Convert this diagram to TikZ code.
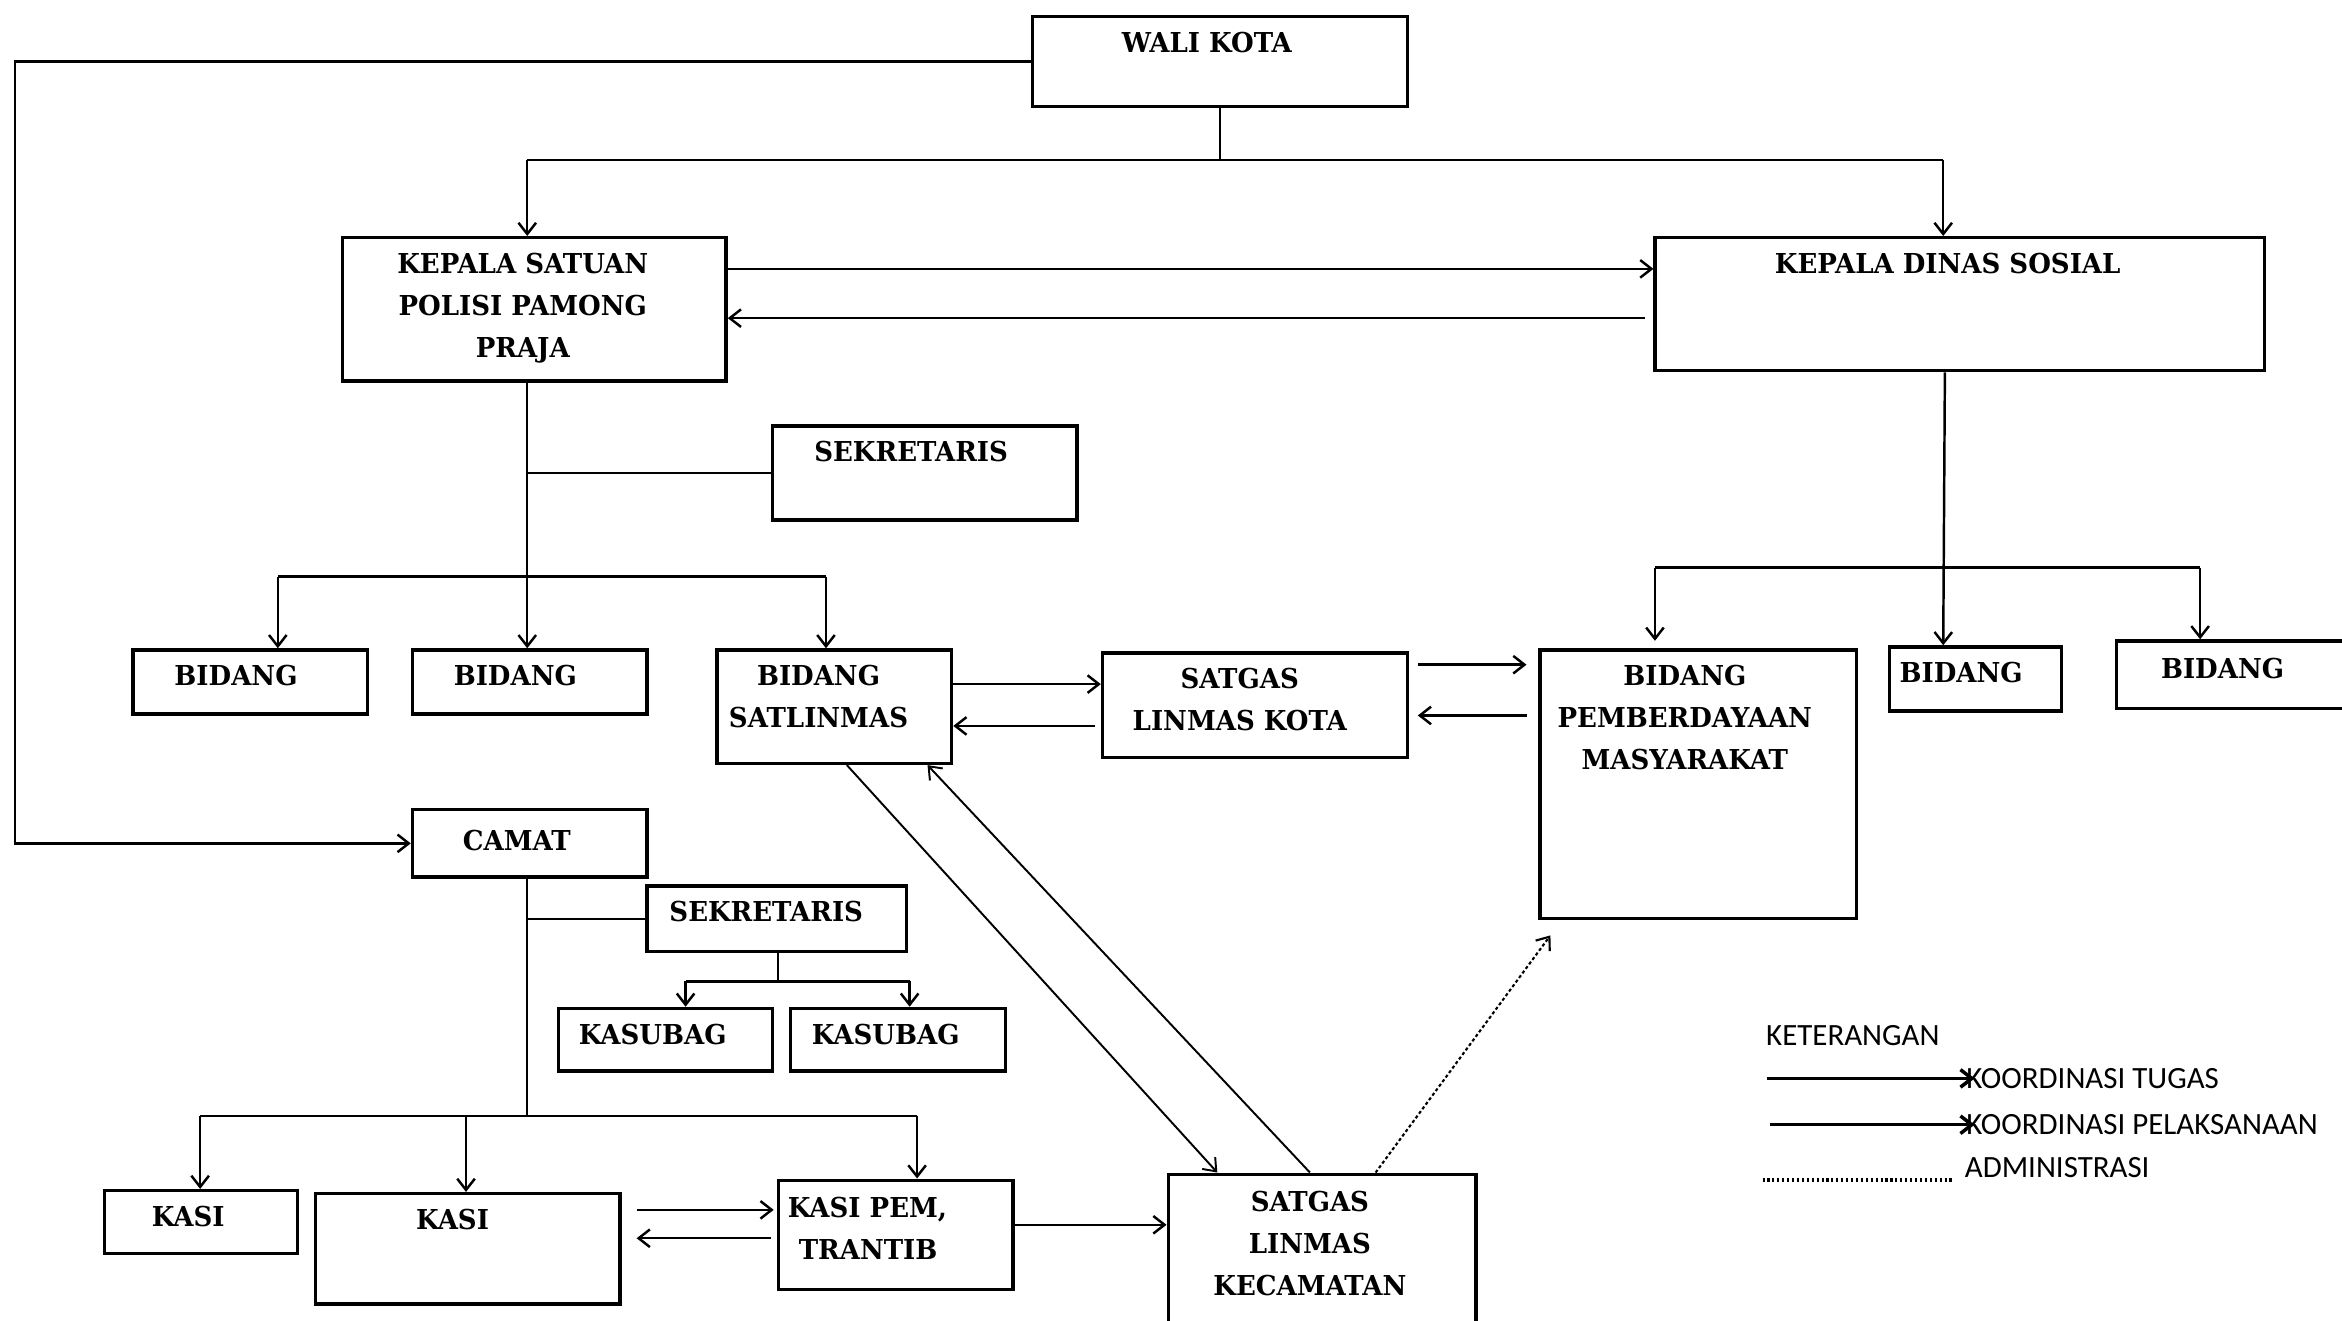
\documentclass[tikz,border=0pt]{standalone}
\usepackage{fontspec}
\setmainfont{DejaVu Serif}[FakeStretch=0.95]
\newfontfamily\legfont{Carlito}
\usetikzlibrary{arrows.meta,calc}
\newlength\unitpx
\setlength\unitpx{0.014936cm}
\tikzset{
  box/.style={draw, line width=0.95pt, anchor=north west, inner sep=0pt},
  lbl/.style={anchor=north, inner sep=0pt, align=center, font=\bfseries\fontsize{7.8}{11.9}\selectfont},
  leg/.style={anchor=west, inner sep=0pt, font=\legfont\fontsize{8.8}{10}\selectfont},
  ln/.style={line width=0.7pt},
  arr/.style={line width=0.7pt, -{Straight Barb[length=3.2pt,width=5pt]}},
  diag/.style={line width=0.55pt, -{Straight Barb[length=3.2pt,width=5pt]}},
  dotarr/.style={line width=0.6pt, dash pattern=on 0.9pt off 0.7pt, -{Straight Barb[length=3.2pt,width=5pt]}},
  legarr/.style={line width=1pt, -{Straight Barb[length=3.2pt,width=5pt]}},
  legdots/.style={line width=1pt, dash pattern=on 0.6pt off 0.8pt},
}
\newcommand\bx[5]{\node[box,minimum width=#4\unitpx,minimum height=#5\unitpx] (#1) at (#2,#3) {};}
\begin{document}
\begin{tikzpicture}[x=0.014936cm,y=-0.014936cm]
\useasboundingbox (0,0) rectangle (1568,884);
\fill[white] (0,0) rectangle (1568,884);
% boxes
\bx{wali}{690}{10}{251}{60}
\bx{kspp}{228}{158}{257}{96}
\bx{kds}{1107}{158}{408}{89}
\bx{sek1}{516}{284}{204}{63}
\bx{b1}{88}{434}{157}{43}
\bx{b2}{275}{434}{157}{43}
\bx{bs}{479}{434}{157}{76}
\bx{slk}{737}{436}{204}{70}
\bx{bpm}{1030}{434}{212}{180}
\bx{b3}{1264}{432}{115}{43}
\bx{b4}{1416}{428}{170}{45}
\bx{camat}{275}{541}{157}{45}
\bx{sek2}{432}{592}{174}{44}
\bx{ksb1}{373}{674}{143}{42}
\bx{ksb2}{528}{674}{144}{42}
\bx{kasi1}{69}{796}{129}{42}
\bx{kasi2}{210}{798}{204}{74}
\bx{kpem}{520}{789}{157}{73}
\bx{slkec}{781}{785}{206}{110}
% labels
\node[lbl] (twali) at (808,21) {WALI KOTA};
\node[lbl] (tkspp) at (350,169) {KEPALA SATUAN\\POLISI PAMONG\\PRAJA};
\node[lbl] (tkds) at (1304,169) {KEPALA DINAS SOSIAL};
\node[lbl] (tsek1) at (610,295) {SEKRETARIS};
\node[lbl] (tb1) at (158,445) {BIDANG};
\node[lbl] (tb2) at (345,445) {BIDANG};
\node[lbl] (tbs) at (548,445) {BIDANG\\SATLINMAS};
\node[lbl] (tslk) at (830,447) {SATGAS\\LINMAS KOTA};
\node[lbl] (tbpm) at (1128,445) {BIDANG\\PEMBERDAYAAN\\MASYARAKAT};
\node[lbl] (tb3) at (1313,443) {BIDANG};
\node[lbl] (tb4) at (1488,440) {BIDANG};
\node[lbl] (tcamat) at (346,555) {CAMAT};
\node[lbl] (tsek2) at (513,603) {SEKRETARIS};
\node[lbl] (tksb1) at (437,685) {KASUBAG};
\node[lbl] (tksb2) at (593,685) {KASUBAG};
\node[lbl] (tkasi1) at (126,807) {KASI};
\node[lbl] (tkasi2) at (303,809) {KASI};
\node[lbl,align=left,anchor=north west] (tkpem) at (527,801) {KASI PEM,\\\hspace*{0.4em}TRANTIB};
\node[lbl] (tslkec) at (877,797) {SATGAS\\LINMAS\\KECAMATAN};
% top connectors
\coordinate (jw) at (815,107);
\coordinate (jL) at (353,107);
\coordinate (jR) at (1301,107);
\draw[ln] (wali.south) -- (wali.south |- jw);
\draw[ln] (jL) -- (jR);
\draw[arr] (jL) -- (jL |- kspp.north);
\draw[arr] (jR) -- (jR |- kds.north);
% left loop to camat
\coordinate (cL) at (10,300);
\draw[arr] (wali.west) -| (cL) |- (camat.west);
% kspp <-> kds
\coordinate (h1) at (0,180);
\coordinate (h2) at (0,213);
\draw[arr] (kspp.east |- h1) -- (kds.west |- h1);
\draw[arr] ($(kds.west |- h2)+(-6,0)$) -- (kspp.east |- h2);
% kspp subtree
\coordinate (jb) at (353,386);
\coordinate (jb1) at (186,386);
\coordinate (jb3) at (553,386);
\draw[ln] (kspp.south -| jb) -- (jb);
\draw[ln] (sek1.west) -- (sek1.west -| jb);
\draw[ln] (jb1) -- (jb3);
\draw[arr] (jb1) -- (jb1 |- b1.north);
\draw[arr] (jb) -- (jb |- b2.north);
\draw[arr] (jb3) -- (jb3 |- bs.north);
% bs <-> slk
\coordinate (h3) at (0,458);
\coordinate (h4) at (0,486);
\draw[arr] (bs.east |- h3) -- (slk.west |- h3);
\draw[arr] ($(slk.west |- h4)+(-4,0)$) -- (bs.east |- h4);
% slk <-> bpm
\coordinate (h5) at (0,445);
\coordinate (h6) at (0,479);
\draw[arr] ($(slk.east |- h5)+(6,0)$) -- ($(bpm.west |- h5)+(-8,0)$);
\draw[arr] ($(bpm.west |- h6)+(-8,0)$) -- ($(slk.east |- h6)+(6,0)$);
% kds subtree
\coordinate (jk) at (1301,380);
\coordinate (jk1) at (1108,380);
\coordinate (jk3) at (1473,380);
\draw[arr] ($(kds.south)+(-10,0)$) -- (jk |- b3.north);
\draw[ln] (jk1) -- (jk3);
\draw[arr] (jk1) -- ($(jk1 |- bpm.north)+(0,-5)$);
\draw[arr] (jk3) -- (jk3 |- b4.north);
% camat subtree
\coordinate (jc) at (353,747);
\draw[ln] (camat.south -| jc) -- (jc);
\draw[ln] (sek2.west) -- (sek2.west -| jc);
\coordinate (js) at (521,657);
\coordinate (js1) at (459,657);
\coordinate (js2) at (609,657);
\draw[ln] (sek2.south -| js) -- (js);
\draw[ln] (js1) -- (js2);
\draw[arr] (js1) -- (js1 |- ksb1.north);
\draw[arr] (js2) -- (js2 |- ksb2.north);
\coordinate (jq1) at (134,747);
\coordinate (jq2) at (312,747);
\coordinate (jq3) at (614,747);
\draw[ln] (jq1) -- (jq3);
\draw[arr] (jq1) -- (jq1 |- kasi1.north);
\draw[arr] (jq2) -- (jq2 |- kasi2.north);
\draw[arr] (jq3) -- (jq3 |- kpem.north);
% kasi2 <-> kpem
\coordinate (h7) at (0,810);
\coordinate (h8) at (0,829);
\coordinate (h9) at (0,820);
\draw[arr] ($(kasi2.east |- h7)+(10,0)$) -- ($(kpem.west |- h7)+(-2,0)$);
\draw[arr] ($(kpem.west |- h8)+(-4,0)$) -- ($(kasi2.east |- h8)+(10,0)$);
\draw[arr] (kpem.east |- h9) -- (slkec.west |- h9);
% diagonals
\draw[diag] ($(bs.south west)+(88,0)$) -- ($(slkec.north west)+(34,0)$);
\draw[diag] ($(slkec.north west)+(96,0)$) -- ($(bs.south west)+(142,0)$);
\draw[dotarr] ($(slkec.north west)+(140,0)$) -- ($(bpm.south west)+(8,10)$);
% legend
\node[leg] (ket) at (1182,693) {KETERANGAN};
\node[leg] (kt) at (1316,722) {KOORDINASI TUGAS};
\node[leg] (kp) at (1316,753) {KOORDINASI PELAKSANAAN};
\node[leg] (adm) at (1315,782) {ADMINISTRASI};
\coordinate (l1) at (1183,722);
\coordinate (l2) at (1185,753);
\coordinate (l3) at (1180,790);
\draw[legarr] (l1) -- ($(kt.west)+(6,0)$);
\draw[legarr] (l2) -- ($(kp.west)+(6,0)$);
\draw[legdots] (l3) -- ($(adm.west)+(-8,8)$);
\end{tikzpicture}
\end{document}
